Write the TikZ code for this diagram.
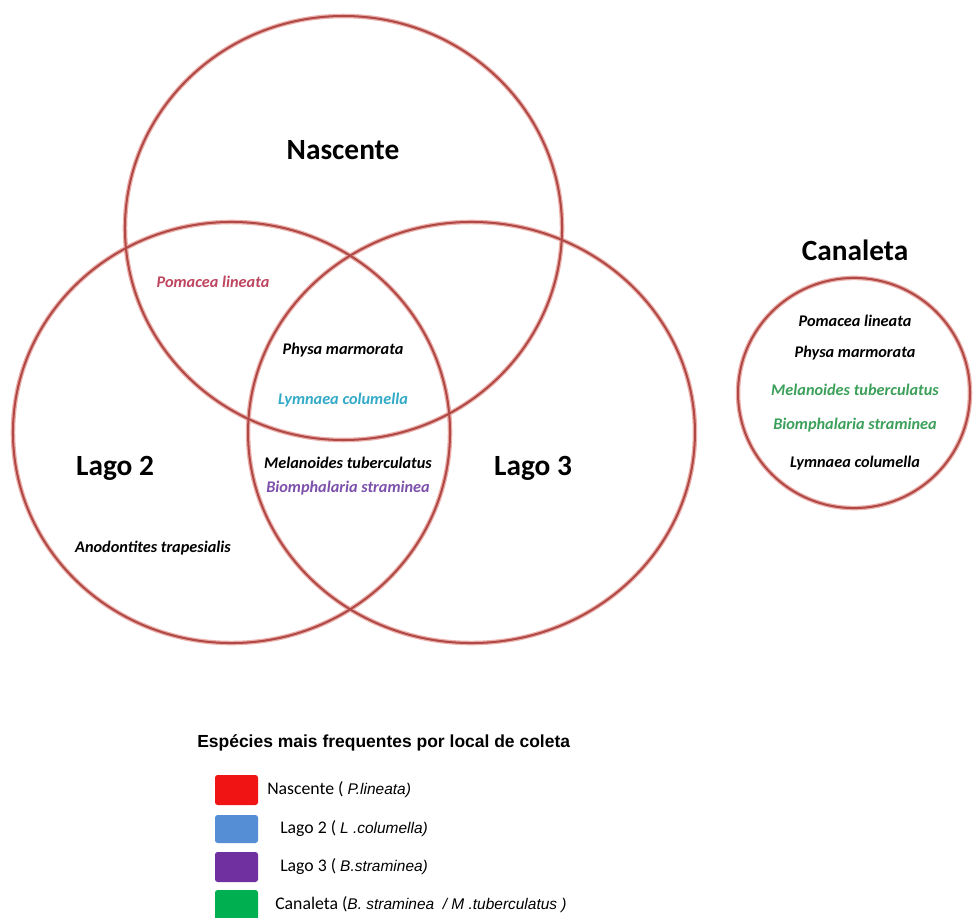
\documentclass[tikz,border=0pt]{standalone}
\usepackage{fontspec}
\setmainfont{Carlito}
\newfontfamily\arialf{Liberation Sans}
\definecolor{ringdark}{RGB}{176,72,70}
\definecolor{ringlight}{RGB}{235,175,170}
\definecolor{pomred}{RGB}{190,70,95}
\definecolor{lymcyan}{RGB}{50,170,200}
\definecolor{biopurple}{RGB}{125,80,170}
\definecolor{cangreen}{RGB}{60,160,90}
\definecolor{swred}{RGB}{240,20,20}
\definecolor{swblue}{RGB}{85,142,213}
\definecolor{swpurple}{RGB}{112,48,160}
\definecolor{swgreen}{RGB}{0,176,80}
\newcommand{\legsp}[1]{{\arialf\itshape\fontsize{11.6}{14}\selectfont #1}}
\tikzset{
  ringbg/.style={draw=ringlight, line width=3.4pt},
  ringfg/.style={draw=ringdark, line width=1.5pt},
  bigname/.style={font=\bfseries\fontsize{22}{26}\selectfont, inner sep=0pt},
  species/.style={font=\bfseries\itshape\fontsize{12.2}{14}\selectfont, inner sep=0pt},
  swatch/.style={rounded corners=2pt, draw=none},
  legtext/.style={font=\fontsize{13.3}{15}\selectfont, anchor=west, inner sep=0pt},
}
\begin{document}
\begin{tikzpicture}[x=0.75pt,y=-0.75pt]
\useasboundingbox[fill=white] (0,0) rectangle (973,917);
% rings
\foreach \st in {ringbg,ringfg}{
  \draw[\st] (343.5,228) ellipse [x radius=163.9pt, y radius=159pt];
  \draw[\st] (231.5,432.5) ellipse [x radius=163.9pt, y radius=157.9pt];
  \draw[\st] (471.5,432.5) ellipse [x radius=167.6pt, y radius=157.9pt];
  \draw[\st] (854,393) ellipse [x radius=87pt, y radius=86.3pt];
}
% set names
\node[bigname] (nasc) at (343,150) {Nascente};
\node[bigname] (lago2) at (115,468) {Lago 2};
\node[bigname] (lago3) at (533,468) {Lago 3};
\node[bigname] (canal) at (855,250) {Canaleta};
% species in Venn
\node[species, text=pomred] (pl) at (213,282) {Pomacea lineata};
\node[species] (pm) at (343,350) {Physa marmorata};
\node[species, text=lymcyan] (lc) at (343,400) {Lymnaea columella};
\node[species] (mt) at (348,463) {Melanoides tuberculatus};
\node[species, text=biopurple] (bs) at (348,488) {Biomphalaria straminea};
\node[species] (at) at (153,548) {Anodontites trapesialis};
% species in Canaleta
\node[species] (cpl) at (855,321) {Pomacea lineata};
\node[species] (cpm) at (855,353) {Physa marmorata};
\node[species, text=cangreen] (cmt) at (855,390) {Melanoides tuberculatus};
\node[species, text=cangreen] (cbs) at (855,425) {Biomphalaria straminea};
\node[species] (clc) at (855,463) {Lymnaea columella};
% legend
\node[anchor=west, inner sep=0pt, font=\arialf\bfseries\fontsize{13.1}{15}\selectfont] (legt) at (197,743) {Espécies mais frequentes por local de coleta};
\fill[swatch, swred] (215,775) rectangle (258,805);
\fill[swatch, swblue] (215,815) rectangle (258,843);
\fill[swatch, swpurple] (215,852) rectangle (258,882);
\fill[swatch, swgreen] (215,890) rectangle (258,920);
\node[legtext] (l1) at (267,790) {Nascente ( \legsp{P.lineata)}};
\node[legtext] (l2) at (280,829) {Lago 2 ( \legsp{L .columella)}};
\node[legtext] (l3) at (280,867) {Lago 3 ( \legsp{B.straminea)}};
\node[legtext] (l4) at (275,905) {Canaleta (\legsp{B. straminea~ / M .tuberculatus )}};
\end{tikzpicture}
\end{document}
